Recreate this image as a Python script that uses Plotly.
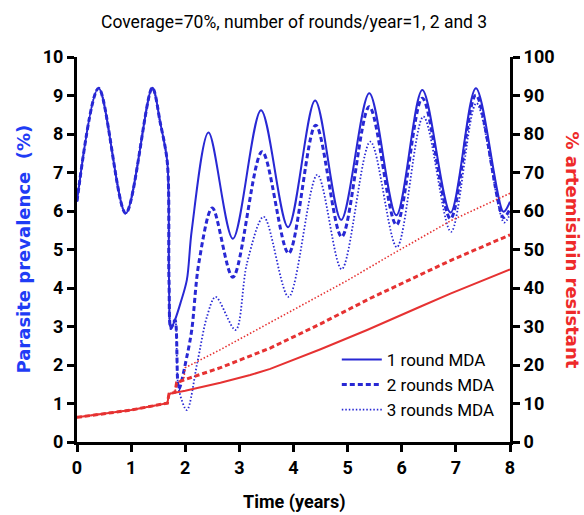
import plotly.graph_objects as go

# ---------------- data ----------------
# Parasite prevalence (%) – left axis
t_1round = [0, 0.40, 0.90, 1.39, 1.54, 1.67, 1.70, 1.735, 1.81, 1.91, 2.03, 2.12, 2.43, 2.88, 3.40, 3.90,
            4.40, 4.88, 5.40, 5.90, 6.38, 6.90, 7.37, 7.88, 8.0]
p_1round = [6.25, 9.19, 5.94, 9.20, 8.28, 7.24, 4.2, 2.95, 3.17, 3.60, 4.21, 5.5, 8.04, 5.28, 8.62, 5.58,
            8.87, 5.77, 9.06, 5.89, 9.14, 5.96, 9.19, 5.98, 6.24]

t_2round = [0, 0.40, 0.90, 1.39, 1.54, 1.67, 1.70, 1.735, 1.81, 1.88, 2.03, 2.12, 2.25, 2.50, 2.88, 3.42,
            3.91, 4.41, 4.89, 5.40, 5.90, 6.38, 6.90, 7.37, 7.88, 8.0]
p_2round = [6.25, 9.19, 5.94, 9.20, 8.28, 7.24, 4.2, 2.95, 3.17, 1.37, 2.22, 2.91, 4.64, 6.08, 4.28, 7.54,
            4.90, 8.23, 5.33, 8.71, 5.64, 8.93, 5.80, 9.01, 5.83, 6.05]

t_3round = [0, 0.40, 0.90, 1.39, 1.54, 1.67, 1.70, 1.735, 1.81, 1.88, 2.03, 2.22, 2.40, 2.56, 2.93, 3.14,
            3.45, 3.91, 4.44, 4.89, 5.42, 5.91, 6.40, 6.91, 7.38, 7.89, 8.0]
p_3round = [6.25, 9.19, 5.94, 9.20, 8.28, 7.24, 4.2, 2.95, 3.17, 1.37, 0.83, 2.04, 3.25, 3.77, 2.91, 4.64,
            5.85, 3.77, 6.94, 4.49, 7.80, 5.06, 8.45, 5.46, 8.80, 5.70, 5.92]

# % artemisinin resistant – right axis
t_res1 = [0, 1.0, 1.67, 1.70, 2.0, 2.65, 3.2, 3.57, 4.5, 5.36, 6.35, 6.91, 8.0]
r_res1 = [6.4, 8.3, 10.1, 12.5, 13.3, 15.4, 17.4, 19.0, 24.1, 29.1, 35.2, 38.6, 44.8]

t_res2 = [0, 1.0, 1.67, 1.70, 1.81, 1.84, 1.97, 2.65, 3.57, 4.5, 5.43, 6.35, 6.91, 8.0]
r_res2 = [6.4, 8.3, 10.1, 12.5, 12.9, 15.4, 16.1, 19.3, 24.4, 30.7, 37.4, 43.5, 47.2, 53.8]

t_res3 = [0, 1.0, 1.67, 1.70, 1.81, 1.84, 1.97, 2.0, 2.65, 3.0, 3.94, 5.0, 5.80, 6.91, 8.0]
r_res3 = [6.4, 8.3, 10.1, 12.5, 12.9, 15.4, 16.1, 19.3, 24.0, 26.7, 33.8, 42.0, 48.6, 57.5, 64.6]

legend_names = ["1 round MDA", "2 rounds MDA", "3 rounds MDA"]
x_ticks = list(range(0, 9))
y_ticks = list(range(0, 11))
y2_ticks = list(range(0, 101, 10))

# ---------------- style ----------------
BLUE = "#2828d4"
RED = "#e63232"
NARROW = "Roboto, Liberation Sans, sans-serif"
WIDE = "DejaVu Sans, sans-serif"

fig = go.Figure()

# red resistance curves (right axis)
for tt, rr, dash, w in [(t_res1, r_res1, "solid", 2), (t_res2, r_res2, "5px,3px", 3),
                        (t_res3, r_res3, "1.5px,2px", 1.6)]:
    fig.add_trace(go.Scatter(x=tt, y=rr, mode="lines", yaxis="y2", showlegend=False,
                             line=dict(color=RED, width=w, dash=dash), hoverinfo="skip"))

# blue prevalence curves (left axis)
for tt, pp, name, dash, w in [(t_1round, p_1round, legend_names[0], "solid", 2),
                              (t_2round, p_2round, legend_names[1], "5px,3px", 3),
                              (t_3round, p_3round, legend_names[2], "1.5px,2px", 1.8)]:
    fig.add_trace(go.Scatter(x=tt, y=pp, mode="lines", name=name,
                             line=dict(color=BLUE, width=w, dash=dash, shape="spline", smoothing=0.9)))

axis_common = dict(showline=True, linewidth=3, linecolor="black", ticks="outside", ticklen=7,
                   tickwidth=3, tickcolor="black", showgrid=False, zeroline=False,
                   tickfont=dict(family=NARROW, size=18, color="black", weight="bold"))

fig.update_layout(
    width=584, height=515,
    margin=dict(l=77, r=74, t=57, b=73),
    paper_bgcolor="white", plot_bgcolor="white",
    xaxis=dict(range=[0, 8], tickvals=x_ticks, **axis_common),
    yaxis=dict(range=[0, 10], tickvals=y_ticks, **axis_common),
    yaxis2=dict(range=[0, 100], tickvals=y2_ticks, overlaying="y", side="right", **axis_common),
    legend=dict(x=0.6, y=0.26, xanchor="left", yanchor="top", bgcolor="rgba(255,255,255,0)",
                font=dict(family=NARROW, size=17, color="black"), itemwidth=40,
                tracegroupgap=0),
    annotations=[
        dict(text="Coverage=70%, number of rounds/year=1, 2 and 3", xref="paper", yref="paper",
             x=0.5, y=1 + 35 / 385, xanchor="center", yanchor="middle", showarrow=False,
             font=dict(family=NARROW, size=17.5, color="black")),
        dict(text="Time (years)", xref="paper", yref="paper", x=0.5, y=-60 / 385,
             xanchor="center", yanchor="middle", showarrow=False,
             font=dict(family=NARROW, size=18, color="black", weight="bold")),
        dict(text="Parasite prevalence  (%)", xref="paper", yref="paper", x=-54 / 433, y=0.5,
             xanchor="center", yanchor="middle", textangle=-90, showarrow=False,
             font=dict(family=WIDE, size=18, color="#1f3cf5", weight="bold")),
        dict(text="% artemisinin resistant", xref="paper", yref="paper", x=1 + 62 / 433, y=0.5,
             xanchor="center", yanchor="middle", textangle=90, showarrow=False,
             font=dict(family=WIDE, size=18, color="#ee2a2a", weight="bold")),
    ],
)

fig.write_html("out.html", config={"displayModeBar": False},
               post_script="document.body.style.margin='0';document.body.style.overflow='hidden';")
